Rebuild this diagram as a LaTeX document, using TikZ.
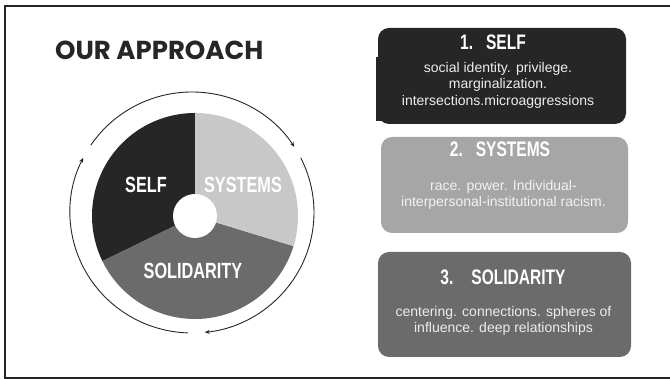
\documentclass[tikz,border=0pt]{standalone}
\usepackage{fontspec}
\setmainfont{Liberation Sans}
\newfontfamily\headfont{Poppins}
\newfontfamily\condfont[FakeStretch=0.74]{Liberation Sans}
\usetikzlibrary{positioning}
\usetikzlibrary{arrows.meta}

\definecolor{inkdark}{HTML}{262626}
\definecolor{greylight}{HTML}{C8C8C8}
\definecolor{greymid}{HTML}{A6A6A6}
\definecolor{greydeep}{HTML}{6B6B6B}

\begin{document}
\begin{tikzpicture}[
		x=1pt, y=1pt,
		card/.style={rectangle, rounded corners=11pt, minimum width=248pt, minimum height=96pt, inner sep=0pt},
		cardtitle/.style={inner sep=0pt, text=white, font=\condfont\bfseries\fontsize{21}{25}\selectfont},
		cardtext/.style={inner sep=0pt, text=white!93!black, align=center, font=\fontsize{14}{16.5}\selectfont},
		pielabel/.style={inner sep=0pt, text=white, font=\condfont\bfseries\fontsize{22}{26}\selectfont},
		turn/.style={-{Stealth[length=5pt, width=4pt]}, line width=0.9pt, draw=inkdark}
	]

	\useasboundingbox (0,0) rectangle (670,379);
	\draw[line width=2.2pt, inkdark] (672,373.3) -- (5.3,373.3) -- (5.3,1.3) -- (672,1.3);

	\node[anchor=base west, inner sep=0pt, text=inkdark, font=\headfont\bfseries\fontsize{26}{31}\selectfont] (heading) at (55,319) {OUR APPROACH};

	% wheel
	\coordinate (pie) at (195,163);
	\fill[inkdark] (pie) -- ++(90:103pt) arc[start angle=90, end angle=206, radius=103pt] -- cycle;
	\fill[greydeep] (pie) -- ++(206:103pt) arc[start angle=206, end angle=343, radius=103pt] -- cycle;
	\fill[greylight] (pie) -- ++(-17:103pt) arc[start angle=-17, end angle=90, radius=103pt] -- cycle;
	\fill[white] (pie) circle[radius=22pt];

	\node[pielabel] (self) at (146,194.5) {SELF};
	\node[pielabel] (systems) at (243,194.5) {SYSTEMS};
	\node[pielabel] (solidarity) at (193,108.5) {SOLIDARITY};

	% arrows round the wheel
	\coordinate (ring) at (192,166.5);
	\coordinate (top start) at ([shift={(146:122pt and 120.5pt)}]ring);
	\coordinate (right start) at ([shift={(27:122pt and 120.5pt)}]ring);
	\coordinate (left start) at ([shift={(268:122pt and 120.5pt)}]ring);
	\draw[turn] (top start) arc[start angle=146, end angle=33, x radius=122pt, y radius=120.5pt];
	\draw[turn] (right start) arc[start angle=27, end angle=-84, x radius=122pt, y radius=120.5pt];
	\draw[turn] (left start) arc[start angle=268, end angle=153, x radius=122pt, y radius=120.5pt];

	% cards
	\fill[inkdark] (375.5,258) rectangle (386,322);
	\node[card, fill=inkdark] (selfcard) at (502,303) {};
	\node[cardtitle, below=7pt of selfcard.north, xshift=-9pt] (selftitle) {1.\hspace{13pt}SELF};
	\node[cardtext, below=34pt of selfcard.north, xshift=-4pt] (selftext) {social identity. privilege.\\marginalization.\\intersections.microaggressions};

	\node[card, fill=greymid, minimum width=247pt] (systemscard) at (504.5,194) {};
	\node[cardtitle, below=5pt of systemscard.north, xshift=-4.5pt] (systemstitle) {2.\hspace{13pt}SYSTEMS};
	\node[cardtext, below=43pt of systemscard.north, xshift=-1pt, text=white!95!black, font=\fontsize{14}{16}\selectfont] (systemstext) {race. power. Individual-\\interpersonal-institutional racism.};

	\node[card, fill=greydeep, minimum width=253pt, minimum height=105pt] (solidaritycard) at (504.5,74.5) {};
	\node[cardtitle, below=18pt of solidaritycard.north, xshift=-1.5pt] (solidaritytitle) {3.\hspace{18pt}SOLIDARITY};
	\node[cardtext, below=54pt of solidaritycard.north, xshift=-1pt, font=\fontsize{14}{16}\selectfont] (solidaritytext) {centering. connections. spheres of\\influence. deep relationships};

\end{tikzpicture}
\end{document}
